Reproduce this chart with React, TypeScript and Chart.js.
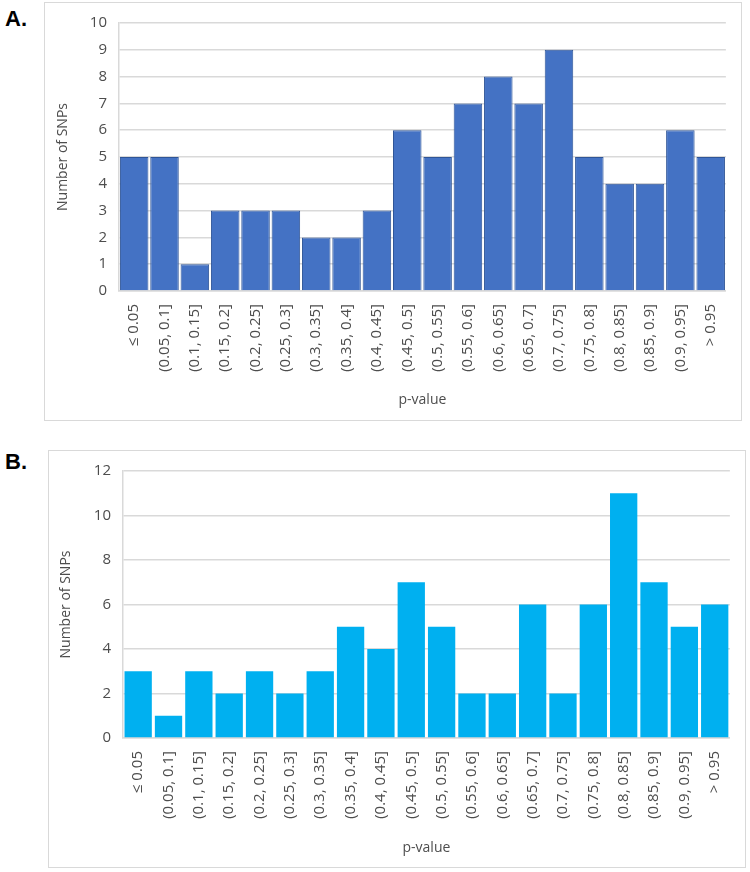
import React, { useEffect, useRef } from 'react';
import { Chart, registerables } from 'chart.js';

Chart.register(...registerables);

const categories = [
  '≤ 0.05', '(0.05, 0.1]', '(0.1, 0.15]', '(0.15, 0.2]', '(0.2, 0.25]',
  '(0.25, 0.3]', '(0.3, 0.35]', '(0.35, 0.4]', '(0.4, 0.45]', '(0.45, 0.5]',
  '(0.5, 0.55]', '(0.55, 0.6]', '(0.6, 0.65]', '(0.65, 0.7]', '(0.7, 0.75]',
  '(0.75, 0.8]', '(0.8, 0.85]', '(0.85, 0.9]', '(0.9, 0.95]', '> 0.95',
];

const snpCountsA = [5, 5, 1, 3, 3, 3, 2, 2, 3, 6, 5, 7, 8, 7, 9, 5, 4, 4, 6, 5];
const snpCountsB = [3, 1, 3, 2, 3, 2, 3, 5, 4, 7, 5, 2, 2, 6, 2, 6, 11, 7, 5, 6];

const yAxisA = { max: 10, step: 1 };
const yAxisB = { max: 12, step: 2 };

const yTitle = 'Number of SNPs';
const xTitle = 'p-value';

const FONT = '"Open Sans", "Liberation Sans", sans-serif';
const TEXT = '#4d4d4d';
const GRID = '#d9d9d9';

type PanelProps = {
  left: number; top: number; width: number; height: number;
  values: number[]; fill: string; stroke: string; strokeWidth: number;
  yMax: number; yStep: number;
  pad: { left: number; top: number; right: number; bottom: number };
  yAxisWidth: number; xAxisHeight: number; barPct: number;
};

function Panel(p: PanelProps) {
  const ref = useRef<HTMLCanvasElement>(null);
  useEffect(() => {
    if (!ref.current) return;
    const chart = new Chart(ref.current, {
      type: 'bar',
      data: {
        labels: categories,
        datasets: [{
          data: p.values,
          backgroundColor: p.fill,
          borderColor: p.stroke,
          borderWidth: p.strokeWidth,
          barPercentage: p.barPct,
          categoryPercentage: 1,
        }],
      },
      options: {
        animation: false,
        responsive: false,
        devicePixelRatio: 1,
        layout: { padding: p.pad },
        plugins: { legend: { display: false }, tooltip: { enabled: false } },
        scales: {
          x: {
            grid: { display: false, drawTicks: false },
            border: { display: true, color: GRID, width: 1.5 },
            ticks: {
              autoSkip: false, maxRotation: 90, minRotation: 90, padding: 13,
              color: TEXT, font: { family: FONT, size: 15 },
            },
            title: { display: true, text: xTitle, color: TEXT, padding: 0, font: { family: FONT, size: 14 } },
            afterFit: (s: any) => { s.height = p.xAxisHeight; },
          },
          y: {
            min: 0, max: p.yMax,
            grid: { color: GRID, lineWidth: 1.5, drawTicks: false },
            border: { display: true, color: GRID, width: 1.5 },
            ticks: { stepSize: p.yStep, padding: 12, color: TEXT, font: { family: FONT, size: 15 } },
            title: { display: true, text: yTitle, color: TEXT, padding: 0, font: { family: FONT, size: 14 } },
            afterFit: (s: any) => { s.width = p.yAxisWidth; },
          },
        },
      },
    });
    return () => chart.destroy();
  }, []);
  return (
    <>
      <div style={{
        position: 'absolute', left: p.left, top: p.top, width: p.width, height: p.height,
        border: '1.5px solid #d9d9d9', boxSizing: 'border-box',
      }} />
      <canvas ref={ref} width={p.width} height={p.height}
        style={{ position: 'absolute', left: p.left, top: p.top, width: p.width, height: p.height }} />
    </>
  );
}

const labelStyle: React.CSSProperties = {
  position: 'absolute', left: 5, fontFamily: '"Liberation Sans", Arial, sans-serif',
  fontWeight: 'bold', fontSize: 22, lineHeight: '22px', color: '#000',
};

export default function App() {
  return (
    <div style={{ position: 'fixed', left: 0, top: 0, width: 750, height: 872, background: '#fff' }}>
      <div style={{ ...labelStyle, top: 8 }}>A.</div>
      <Panel left={44} top={2} width={698} height={419}
        values={snpCountsA} fill="#4472C4" stroke="#2F5597" strokeWidth={1}
        yMax={yAxisA.max} yStep={yAxisA.step}
        pad={{ left: 11, top: 20, right: 12, bottom: 13 }}
        yAxisWidth={64} xAxisHeight={117} barPct={0.94} />
      <div style={{ ...labelStyle, top: 451 }}>B.</div>
      <Panel left={48} top={450} width={698} height={418}
        values={snpCountsB} fill="#00B0F0" stroke="#00B0F0" strokeWidth={0}
        yMax={yAxisB.max} yStep={yAxisB.step}
        pad={{ left: 10, top: 20, right: 12, bottom: 12 }}
        yAxisWidth={65} xAxisHeight={118} barPct={0.9} />
    </div>
  );
}
